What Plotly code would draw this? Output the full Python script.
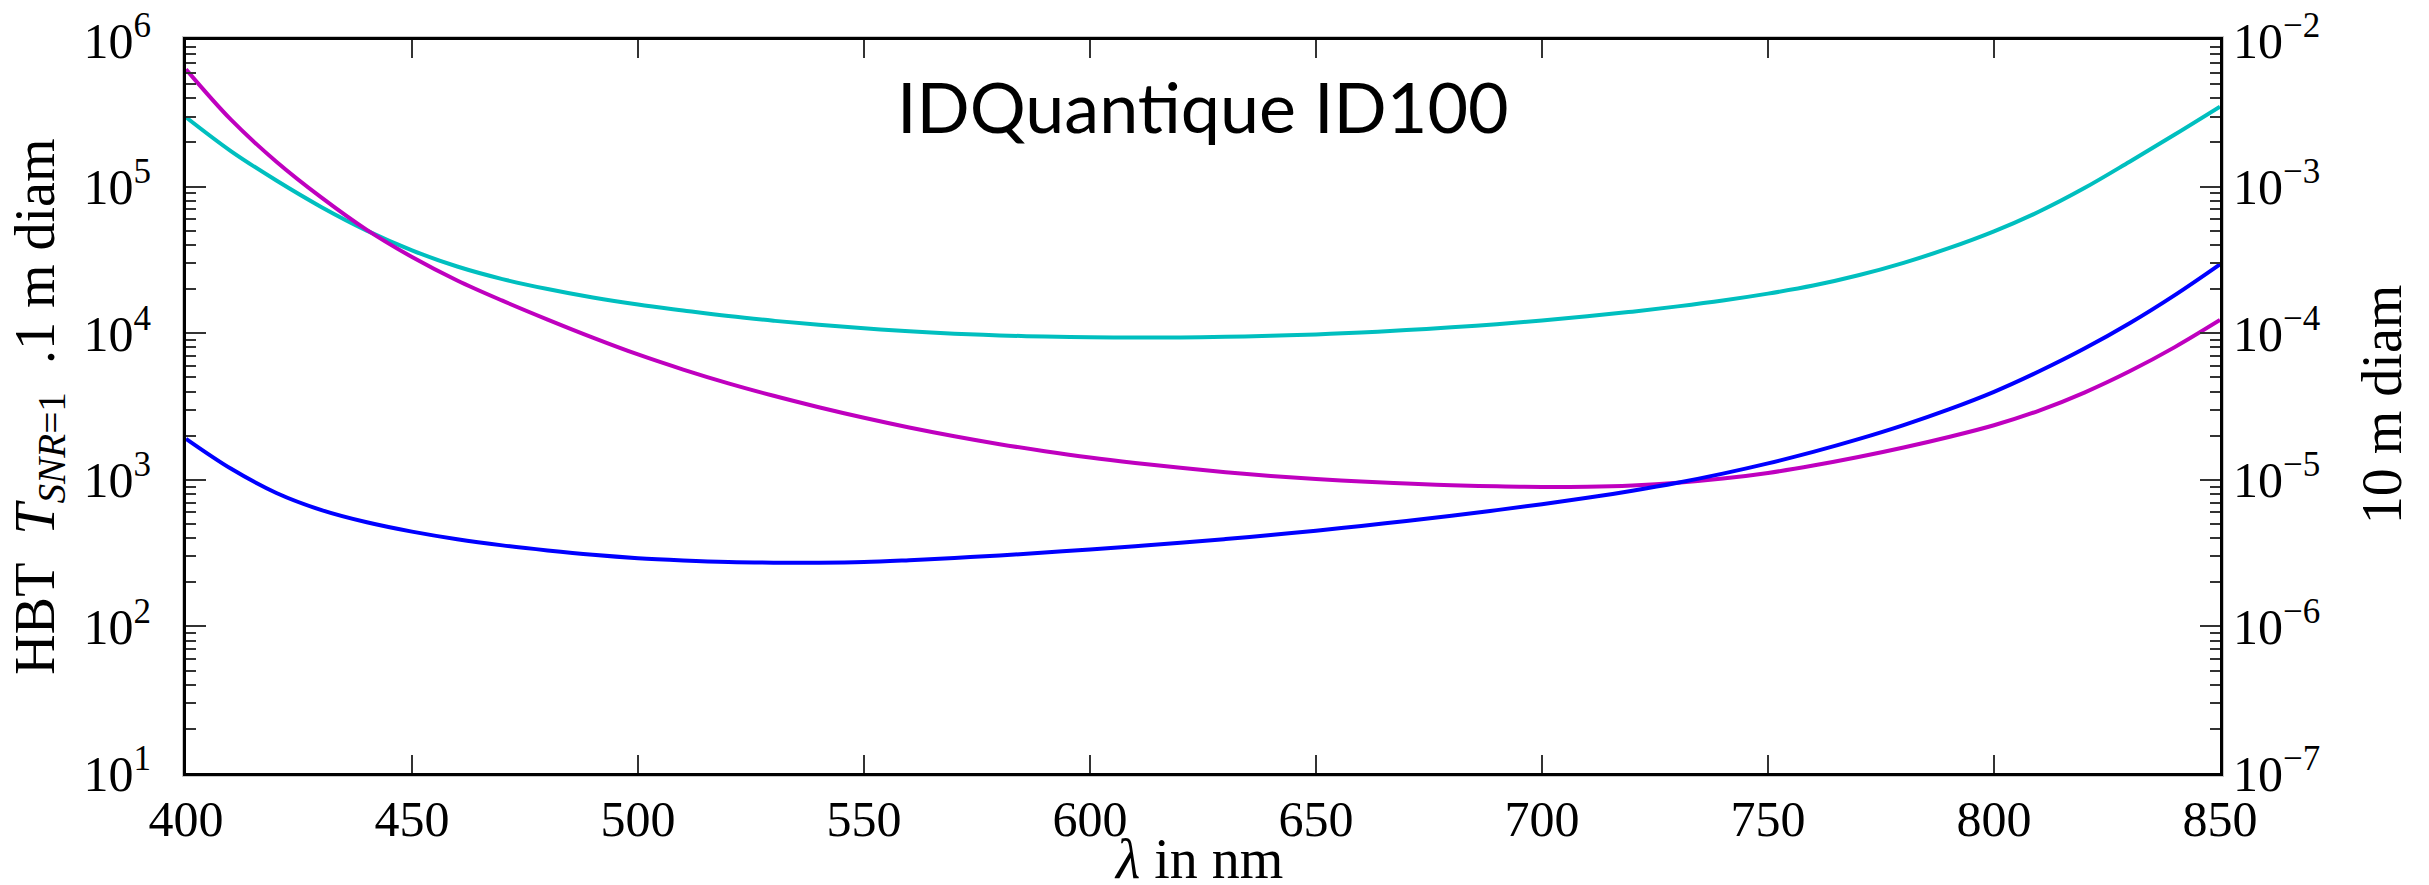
import plotly.graph_objects as go

wavelength_nm = [400, 410, 420, 430, 440, 450, 460, 470, 480, 490,
                 500, 510, 520, 530, 540, 550, 560, 570, 580, 590,
                 600, 610, 620, 630, 640, 650, 660, 670, 680, 690,
                 700, 710, 720, 730, 740, 750, 760, 770, 780, 790,
                 800, 810, 820, 830, 840, 850]

cyan_series = [2.97e5, 1.74e5, 1.10e5, 7.24e4, 5.01e4, 3.67e4, 2.85e4, 2.34e4, 2.00e4, 1.75e4,
               1.567e4, 1.429e4, 1.309e4, 1.216e4, 1.140e4, 1.079e4, 1.030e4, 9931, 9661, 9484,
               9376, 9333, 9354, 9441, 9594, 9817, 1.0116e4, 1.0495e4, 1.096e4, 1.153e4,
               1.222e4, 1.303e4, 1.403e4, 1.524e4, 1.671e4, 1.862e4, 2.113e4, 2.483e4, 3.02e4, 3.80e4,
               4.95e4, 6.76e4, 9.77e4, 1.479e5, 2.265e5, 3.51e5]

magenta_series = [6.31e5, 2.85e5, 1.479e5, 8.41e4, 5.07e4, 3.31e4, 2.29e4, 1.667e4, 1.239e4, 9333,
                  7161, 5649, 4550, 3741, 3126, 2649, 2275, 1982, 1750, 1567,
                  1419, 1303, 1208, 1127, 1062, 1012, 973, 942, 918, 902,
                  893, 897, 916, 955, 1019, 1114, 1250, 1429, 1660, 1959,
                  2355, 2965, 3936, 5495, 8035, 1.23e4]

blue_series = [1905, 1189, 813, 621, 513, 443, 393, 357, 330, 308,
               292, 282, 275, 272, 272, 275, 283, 293, 305, 319,
               335, 352, 372, 394, 420, 450, 484, 524, 569, 621,
               682, 755, 843, 955, 1102, 1294, 1549, 1892, 2360, 3020,
               3981, 5495, 7852, 11695, 18197, 29512]

x_ticks = [400, 450, 500, 550, 600, 650, 700, 750, 800, 850]
left_exponents = [1, 2, 3, 4, 5, 6]
right_exponents = [-7, -6, -5, -4, -3, -2]
right_scale = 1e-8  # right axis value = left axis value * 1e-8

title_text = "IDQuantique ID100"
xlabel = "<i>λ</i>&nbsp;in&nbsp;nm"
ylabel = "HBT&nbsp;&nbsp;<i>T</i><sub><i>SNR</i>=1</sub>&nbsp;&nbsp;.1&nbsp;m&nbsp;diam"
y2label = "10&nbsp;m&nbsp;diam"

serif = "Liberation Serif, DejaVu Serif, serif"
tick_font = dict(family=serif, size=50, color="black")
label_font = dict(family=serif, size=56, color="black")

fig = go.Figure()
for ys, col in [(cyan_series, "#00BFBF"), (magenta_series, "#BF00BF"), (blue_series, "#0000FF")]:
    fig.add_trace(go.Scatter(x=wavelength_nm, y=ys, mode="lines",
                             line=dict(color=col, width=4, shape="spline"),
                             showlegend=False, hoverinfo="skip"))

# invisible trace to activate the right axis
fig.add_trace(go.Scatter(x=wavelength_nm, y=[v * right_scale for v in blue_series],
                         yaxis="y2", mode="lines", line=dict(width=0, color="rgba(0,0,0,0)"),
                         showlegend=False, hoverinfo="skip"))

minor_ticks = dict(ticks="inside", ticklen=10, tickwidth=2, tickcolor="#333", dtick="D1", showgrid=False)

# page body has an 8px default margin, so the figure is sized to fit the window exactly
fig.update_layout(
    width=2421, height=877,
    margin=dict(l=178, r=209, t=32, b=112, autoexpand=False),
    plot_bgcolor="white", paper_bgcolor="white",
    showlegend=False,
    xaxis=dict(range=[400, 850], tickvals=x_ticks, ticktext=[str(t) for t in x_ticks],
               ticks="inside", ticklen=18, tickwidth=2, tickcolor="#333",
               showline=True, linecolor="black", linewidth=3, mirror="ticks",
               showgrid=False, zeroline=False, tickfont=tick_font, automargin=False,
               ticklabeloverflow="allow"),
    yaxis=dict(type="log", range=[1, 6],
               tickvals=[10 ** e for e in left_exponents],
               ticktext=["10<sup>%d</sup>" % e for e in left_exponents],
               ticks="inside", ticklen=20, tickwidth=2, tickcolor="#333",
               minor=minor_ticks,
               showline=True, linecolor="black", linewidth=3,
               showgrid=False, zeroline=False, tickfont=tick_font,
               ticklabelstandoff=22, automargin=False, ticklabeloverflow="allow"),
    yaxis2=dict(type="log", range=[-7, -2], overlaying="y", side="right",
                tickvals=[10.0 ** e for e in right_exponents],
                ticktext=["10<sup>−%d</sup>" % (-e) for e in right_exponents],
                ticks="inside", ticklen=20, tickwidth=2, tickcolor="#333",
                minor=minor_ticks,
                showline=True, linecolor="black", linewidth=3,
                showgrid=False, zeroline=False, tickfont=tick_font, automargin=False,
                ticklabeloverflow="allow"),
    shapes=[dict(type="rect", xref="paper", yref="paper",
                 x0=-2.5 / 2035, x1=1 + 2.5 / 2035, y0=-2.5 / 733, y1=1 + 2.5 / 733,
                 line=dict(color="#c8c8c8", width=3), layer="below")],
    annotations=[
        dict(text=title_text, xref="paper", yref="paper", x=0.5, y=0.91,
             xanchor="center", yanchor="middle", showarrow=False,
             font=dict(family="Lato, Open Sans, sans-serif", size=70, color="black")),
        dict(text=xlabel, xref="paper", yref="paper", x=0.498, y=-0.118,
             xanchor="center", yanchor="middle", showarrow=False, font=label_font),
        dict(text=ylabel, xref="paper", yref="paper", x=-0.0727, y=0.5,
             xanchor="center", yanchor="middle", showarrow=False, textangle=-90, font=label_font),
        dict(text=y2label, xref="paper", yref="paper", x=1.0796, y=0.503,
             xanchor="center", yanchor="middle", showarrow=False, textangle=-90, font=label_font),
    ],
)

fig.write_html("out.html")
